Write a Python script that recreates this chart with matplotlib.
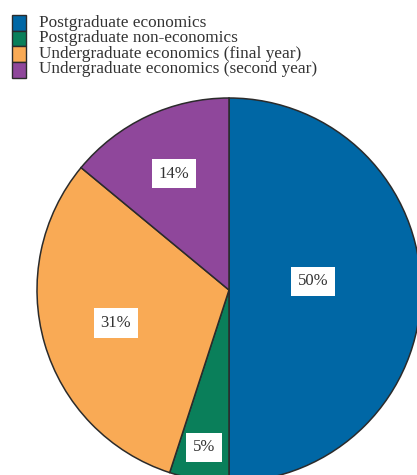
import numpy as np
import matplotlib.pyplot as plt
from matplotlib.patches import Rectangle

plt.rcParams['font.family'] = ['Liberation Serif', 'DejaVu Serif']

groups = ["Postgraduate economics", "Postgraduate non-economics",
          "Undergraduate economics (final year)", "Undergraduate economics (second year)"]
shares = [50, 5, 31, 14]
colors = ["#0067a5", "#0a7f5a", "#f9aa55", "#8f479b"]
# where each percentage box sits: fraction of radius, and a small angle nudge (deg)
label_frac = [0.44, 0.83, 0.615, 0.67]
label_nudge = [6, 0, 0, 0]

W, H = 417, 475
fig = plt.figure(figsize=(W / 100, H / 100), dpi=100)
ax = fig.add_axes([0, 0, 1, 1])

cx, cy, r = 229, H - 290, 192
wedges, _ = ax.pie(shares, colors=colors, startangle=90, counterclock=False,
                   center=(cx, cy), radius=r,
                   wedgeprops=dict(edgecolor="#2b2b2b", linewidth=1.1))
ax.set_xlim(0, W)
ax.set_ylim(0, H)
ax.set_aspect("equal")
ax.axis("off")

for w, pct, f, nd in zip(wedges, shares, label_frac, label_nudge):
    ang = np.deg2rad((w.theta1 + w.theta2) / 2 + nd)
    ax.text(cx + f * r * np.cos(ang), cy + f * r * np.sin(ang), f"{pct}%",
            ha="center", va="center", fontsize=12, color="#333333",
            bbox=dict(boxstyle="square,pad=0.4", fc="white", ec="none"))

# legend: stacked colour keys touching each other, text to the right
key_top, key_h, key_w, row_h = 15, 15.7, 14.5, 15.55
for i, (g, c) in enumerate(zip(groups, colors)):
    y0 = H - (key_top + (i + 1) * key_h)
    ax.add_patch(Rectangle((12, y0), key_w, key_h, facecolor=c,
                           edgecolor="#2b2b2b", linewidth=1.0))
    ax.text(39.3, H - (26.7 + i * row_h), g, fontsize=12.4, color="#333333",
            ha="left", va="baseline")

fig.savefig("out.png", dpi=100)
